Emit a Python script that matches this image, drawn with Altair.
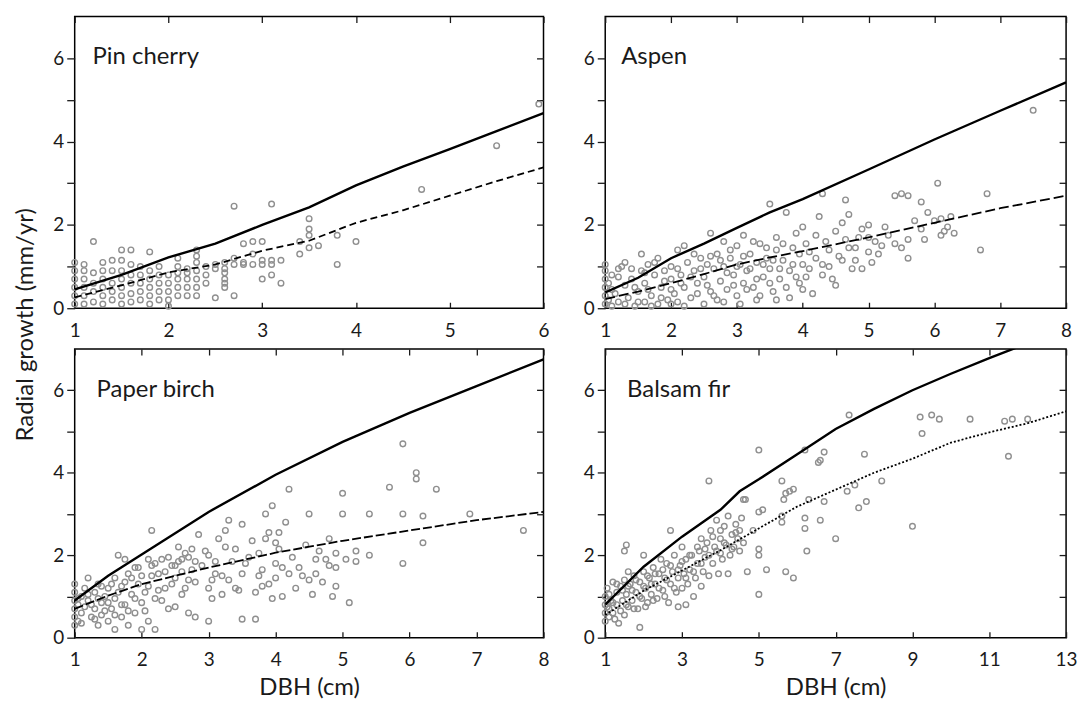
import altair as alt
import pandas as pd

FONT = "Lato"
INK = "#1a1a1a"
DOT = "#8f8f8f"

# ---------------- data ----------------
pin_cherry_pts = [
    (1.0, 0.1), (1.0, 0.3), (1.0, 0.5), (1.0, 0.7), (1.0, 0.9), (1.0, 1.1),
    (1.1, 0.1), (1.1, 0.3), (1.1, 0.5), (1.1, 0.7), (1.1, 0.9), (1.1, 1.05),
    (1.2, 0.15), (1.2, 0.4), (1.2, 0.6), (1.2, 0.85), (1.2, 1.6),
    (1.3, 0.1), (1.3, 0.3), (1.3, 0.5), (1.3, 0.7), (1.3, 0.9), (1.3, 1.1),
    (1.4, 0.2), (1.4, 0.4), (1.4, 0.6), (1.4, 0.9), (1.4, 1.15),
    (1.5, 0.1), (1.5, 0.3), (1.5, 0.5), (1.5, 0.7), (1.5, 0.9), (1.5, 1.15), (1.5, 1.4),
    (1.6, 0.15), (1.6, 0.35), (1.6, 0.6), (1.6, 0.8), (1.6, 1.05), (1.6, 1.4),
    (1.7, 0.2), (1.7, 0.4), (1.7, 0.6), (1.7, 0.8), (1.7, 1.0),
    (1.8, 0.1), (1.8, 0.3), (1.8, 0.5), (1.8, 0.7), (1.8, 0.9), (1.8, 1.35),
    (1.9, 0.2), (1.9, 0.4), (1.9, 0.6), (1.9, 0.8), (1.9, 1.0),
    (2.0, 0.05), (2.0, 0.2), (2.0, 0.4), (2.0, 0.6), (2.0, 0.8),
    (2.1, 0.3), (2.1, 0.5), (2.1, 0.7), (2.1, 0.85), (2.1, 1.0), (2.1, 1.2),
    (2.2, 0.3), (2.2, 0.5), (2.2, 0.7), (2.2, 0.85), (2.2, 0.95),
    (2.3, 0.3), (2.3, 0.5), (2.3, 0.7), (2.3, 0.9), (2.3, 1.1), (2.3, 1.25), (2.3, 1.4),
    (2.4, 0.6), (2.4, 0.8), (2.4, 1.0),
    (2.5, 0.25), (2.5, 0.95), (2.5, 1.05),
    (2.6, 0.5), (2.6, 0.6), (2.6, 0.7), (2.6, 0.85), (2.6, 0.95), (2.6, 1.1),
    (2.7, 0.3), (2.7, 1.05), (2.7, 1.2), (2.7, 2.45),
    (2.8, 1.05), (2.8, 1.1), (2.8, 1.55),
    (2.9, 1.05), (2.9, 1.3), (2.9, 1.6),
    (3.0, 0.7), (3.0, 1.05), (3.0, 1.15), (3.0, 1.6),
    (3.1, 0.8), (3.1, 1.05), (3.1, 1.15), (3.1, 2.5),
    (3.2, 0.6), (3.2, 1.15), (3.4, 1.3), (3.4, 1.6),
    (3.5, 1.45), (3.5, 1.75), (3.5, 1.9), (3.5, 2.15), (3.6, 1.5),
    (3.8, 1.05), (3.8, 1.75), (4.0, 1.6), (4.7, 2.85), (5.5, 3.9), (5.95, 4.9),
]
pin_cherry_curve_x = [1, 1.5, 2, 2.5, 3, 3.5, 4, 4.5, 5, 5.5, 6]
pin_cherry_solid = [0.45, 0.8, 1.22, 1.55, 2.0, 2.42, 2.95, 3.4, 3.82, 4.25, 4.68]
pin_cherry_dashed = [0.26, 0.55, 0.86, 1.05, 1.38, 1.62, 2.05, 2.35, 2.7, 3.05, 3.38]

aspen_pts = [
    (1.0, 0.1), (1.0, 0.3), (1.0, 0.5), (1.0, 0.7), (1.0, 0.9), (1.0, 1.05),
    (1.05, 0.2), (1.05, 0.6), (1.1, 0.8), (1.1, 0.05), (1.15, 0.35), (1.2, 0.15),
    (1.2, 0.95), (1.25, 1.0), (1.3, 1.1), (1.3, 0.55), (1.35, 0.25), (1.4, 0.7),
    (1.45, 0.05), (1.5, 0.4), (1.55, 1.3), (1.55, 0.9), (1.6, 0.15), (1.6, 0.6),
    (1.65, 1.05), (1.7, 0.3), (1.75, 0.8), (1.8, 0.1), (1.8, 1.2), (1.85, 0.5),
    (1.9, 0.9), (1.95, 0.2), (2.0, 0.7), (2.0, 1.0), (2.05, 0.35), (2.1, 1.4),
    (2.1, 0.15), (2.15, 0.8), (2.2, 1.5), (2.2, 0.5), (2.25, 1.1), (2.3, 0.25),
    (2.35, 0.9), (2.4, 0.6), (2.45, 1.2), (2.5, 0.1), (2.5, 0.75), (2.55, 1.05),
    (2.6, 1.8), (2.6, 0.4), (2.65, 0.95), (2.7, 1.3), (2.7, 0.2), (2.75, 0.65),
    (2.8, 1.6), (2.8, 1.0), (2.85, 0.45), (2.9, 1.2), (2.95, 0.8), (3.0, 0.3),
    (3.0, 1.5), (3.05, 1.05), (3.1, 0.6), (3.1, 1.75), (3.15, 0.9), (3.2, 1.3),
    (3.25, 0.5), (3.3, 1.1), (3.3, 0.2), (3.35, 1.55), (3.4, 0.75), (3.45, 1.2),
    (3.5, 2.5), (3.5, 0.95), (3.55, 0.4), (3.6, 1.4), (3.6, 1.7), (3.65, 0.7),
    (3.7, 1.15), (3.75, 2.3), (3.8, 0.9), (3.8, 0.25), (3.85, 1.45), (3.9, 1.8),
    (3.95, 0.6), (4.0, 1.05), (4.0, 1.95), (4.05, 0.75), (4.1, 1.35), (4.15, 0.35),
    (4.2, 1.2), (4.25, 2.2), (4.3, 2.75), (4.3, 0.8), (4.35, 1.6), (4.4, 1.0),
    (4.5, 0.55), (4.5, 1.85), (4.55, 1.25), (4.6, 2.05), (4.65, 2.6), (4.7, 1.45),
    (4.7, 2.25), (4.75, 0.95), (4.8, 1.15), (4.85, 1.7), (4.9, 1.9), (5.0, 1.35),
    (5.0, 2.0), (5.05, 1.1), (5.1, 1.6), (5.2, 1.5), (5.3, 1.75), (5.4, 2.7),
    (5.5, 2.75), (5.5, 1.45), (5.6, 1.2), (5.6, 1.65), (5.6, 2.7), (5.8, 2.55),
    (5.8, 1.9), (5.85, 1.65), (5.9, 2.3), (6.05, 3.0), (6.1, 2.15), (6.1, 1.75),
    (6.2, 1.95), (6.25, 2.2), (6.3, 1.8), (6.7, 1.4), (6.8, 2.75), (7.5, 4.75),
    (1.1, 0.45), (1.2, 0.75), (1.3, 0.1), (1.4, 0.95), (1.45, 0.5), (1.5, 0.15),
    (1.6, 0.85), (1.65, 0.45), (1.7, 0.05), (1.75, 1.1), (1.85, 0.25), (1.9, 0.65),
    (2.0, 0.1), (2.0, 0.45), (2.1, 0.95), (2.15, 0.6), (2.2, 0.05), (2.3, 0.75),
    (2.35, 1.3), (2.4, 0.35), (2.45, 0.95), (2.55, 0.55), (2.6, 1.25), (2.65, 0.3),
    (2.75, 1.15), (2.8, 0.15), (2.85, 0.85), (2.9, 1.4), (2.95, 0.55), (3.0, 1.0),
    (3.05, 0.1), (3.1, 1.25), (3.15, 0.45), (3.2, 0.95), (3.25, 1.6), (3.3, 0.7),
    (3.35, 0.3), (3.4, 1.05), (3.45, 1.45), (3.5, 0.6), (3.55, 1.15), (3.6, 0.2),
    (3.65, 0.95), (3.7, 1.55), (3.75, 0.5), (3.85, 1.05), (3.9, 0.75), (3.95, 1.3),
    (4.0, 0.45), (4.05, 1.55), (4.1, 0.95), (4.2, 1.75), (4.3, 1.05), (4.4, 1.4),
    (4.45, 0.7), (4.6, 1.15), (4.65, 1.65), (4.8, 1.45), (4.9, 0.95), (5.0, 1.7),
    (5.15, 1.3), (5.25, 1.95), (5.4, 1.55), (5.7, 2.1), (6.0, 2.1), (6.15, 1.85),
]
aspen_curve_x = [1, 1.5, 2, 2.5, 3, 3.5, 4, 5, 6, 7, 8]
aspen_solid = [0.38, 0.73, 1.2, 1.55, 1.93, 2.3, 2.62, 3.33, 4.05, 4.74, 5.42]
aspen_dashed = [0.22, 0.4, 0.6, 0.82, 1.05, 1.22, 1.37, 1.7, 2.05, 2.4, 2.7]

paper_birch_pts = [
    (1.0, 0.3), (1.0, 0.5), (1.0, 0.7), (1.0, 0.9), (1.0, 1.1), (1.0, 1.3),
    (1.05, 0.4), (1.05, 0.8), (1.1, 0.6), (1.1, 1.0), (1.15, 1.2), (1.2, 0.9),
    (1.2, 1.45), (1.25, 0.5), (1.3, 0.7), (1.3, 1.1), (1.35, 0.3), (1.35, 1.3),
    (1.4, 0.55), (1.4, 0.85), (1.45, 1.0), (1.5, 0.4), (1.5, 1.2), (1.55, 0.7),
    (1.6, 0.2), (1.6, 1.45), (1.6, 0.95), (1.65, 2.0), (1.7, 0.5), (1.7, 1.25),
    (1.75, 0.8), (1.75, 1.9), (1.8, 1.55), (1.8, 0.3), (1.85, 1.05), (1.9, 0.6),
    (1.9, 1.7), (1.95, 1.3), (2.0, 0.85), (2.0, 0.2), (2.05, 1.1), (2.1, 1.9),
    (2.1, 0.4), (2.15, 1.5), (2.15, 2.6), (2.2, 0.2), (2.2, 1.8), (2.25, 1.15),
    (2.3, 0.9), (2.35, 1.6), (2.4, 1.95), (2.45, 1.3), (2.5, 0.75), (2.5, 1.75),
    (2.55, 2.2), (2.6, 1.05), (2.6, 1.9), (2.65, 2.05), (2.7, 1.4), (2.7, 0.6),
    (2.75, 2.15), (2.8, 1.85), (2.8, 0.5), (2.85, 2.5), (3.0, 0.4), (3.0, 1.2),
    (3.0, 2.0), (3.05, 0.95), (3.1, 1.55), (3.15, 2.4), (3.2, 1.05), (3.25, 2.6),
    (3.3, 2.85), (3.3, 1.4), (3.35, 1.85), (3.4, 2.15), (3.45, 1.15), (3.5, 2.75),
    (3.5, 0.45), (3.55, 1.8), (3.7, 0.45), (3.7, 1.1), (3.75, 1.5), (3.75, 2.05),
    (3.8, 1.65), (3.85, 2.4), (3.85, 3.0), (3.9, 1.3), (3.95, 0.95), (3.95, 3.2),
    (4.0, 1.8), (4.0, 2.3), (4.05, 2.55), (4.1, 1.0), (4.15, 2.8), (4.2, 1.55),
    (4.2, 3.6), (4.3, 1.2), (4.35, 1.7), (4.45, 2.25), (4.5, 1.4), (4.5, 3.0),
    (4.55, 1.05), (4.6, 1.55), (4.7, 1.35), (4.75, 1.9), (4.8, 1.75), (4.8, 2.4),
    (4.85, 1.0), (4.9, 2.05), (4.9, 1.25), (5.0, 3.5), (5.0, 3.0), (5.05, 1.9),
    (5.1, 0.85), (5.2, 1.85), (5.2, 2.1), (5.4, 2.0), (5.4, 3.0), (5.7, 3.65),
    (5.9, 4.7), (5.9, 3.0), (5.9, 1.8), (6.1, 4.0), (6.1, 3.85), (6.2, 2.95),
    (6.2, 2.3), (6.4, 3.6), (6.9, 3.0), (7.7, 2.6),
    (1.05, 0.95), (1.1, 0.35), (1.15, 0.75), (1.2, 1.05), (1.25, 0.8), (1.3, 0.45),
    (1.35, 0.95), (1.4, 1.25), (1.45, 0.65), (1.5, 0.85), (1.55, 1.3), (1.6, 0.55),
    (1.65, 1.1), (1.7, 0.8), (1.75, 1.35), (1.8, 0.65), (1.85, 1.45), (1.9, 0.95),
    (1.95, 1.7), (2.0, 1.5), (2.05, 0.65), (2.1, 1.25), (2.15, 1.75), (2.2, 0.95),
    (2.25, 1.55), (2.3, 1.9), (2.35, 1.2), (2.4, 0.7), (2.45, 1.75), (2.5, 1.45),
    (2.55, 1.85), (2.6, 1.6), (2.65, 1.2), (2.7, 1.95), (2.75, 1.65), (2.8, 1.35),
    (2.9, 1.75), (2.95, 2.1), (3.05, 1.4), (3.1, 1.85), (3.2, 1.5), (3.25, 2.2),
    (3.4, 1.2), (3.5, 1.55), (3.6, 1.95), (3.65, 2.35), (3.8, 1.25), (3.9, 2.55),
    (4.0, 1.45), (4.05, 2.15), (4.1, 1.7), (4.25, 1.95), (4.4, 1.5), (4.6, 1.9),
    (4.65, 2.1), (4.9, 1.7),
]
paper_birch_curve_x = [1, 1.5, 2, 3, 4, 5, 6, 7, 8]
paper_birch_solid = [0.9, 1.5, 2.02, 3.05, 3.95, 4.75, 5.45, 6.1, 6.75]
paper_birch_dashed = [0.7, 1.02, 1.3, 1.7, 2.06, 2.35, 2.6, 2.85, 3.05]

balsam_fir_pts = [
    (1.0, 0.6), (1.0, 0.8), (1.0, 1.0), (1.0, 0.4), (1.05, 1.2), (1.1, 0.7),
    (1.1, 0.5), (1.15, 0.9), (1.2, 1.35), (1.2, 0.6), (1.25, 0.45), (1.3, 1.1),
    (1.3, 0.8), (1.35, 0.35), (1.4, 1.25), (1.45, 0.9), (1.5, 0.55), (1.5, 1.4),
    (1.5, 2.1), (1.55, 1.05), (1.55, 2.25), (1.6, 0.75), (1.6, 1.6), (1.65, 1.3),
    (1.7, 0.9), (1.75, 1.5), (1.8, 1.1), (1.85, 0.7), (1.9, 1.35), (1.9, 0.25),
    (1.95, 0.95), (2.0, 1.6), (2.0, 2.0), (2.05, 1.2), (2.1, 0.85), (2.15, 1.45),
    (2.2, 1.05), (2.25, 1.7), (2.3, 1.3), (2.35, 0.95), (2.4, 1.55), (2.45, 1.9),
    (2.5, 1.15), (2.55, 1.45), (2.6, 1.8), (2.65, 0.85), (2.7, 1.3), (2.7, 2.6),
    (2.75, 1.6), (2.8, 2.0), (2.85, 1.1), (2.9, 1.45), (2.9, 0.75), (2.95, 1.75),
    (3.0, 1.2), (3.0, 2.2), (3.05, 1.55), (3.1, 1.9), (3.1, 0.8), (3.15, 1.3),
    (3.2, 1.65), (3.25, 2.0), (3.3, 1.0), (3.35, 1.45), (3.4, 1.8), (3.45, 2.1),
    (3.5, 1.25), (3.5, 2.4), (3.55, 1.6), (3.6, 1.95), (3.65, 2.3), (3.7, 1.5),
    (3.7, 3.8), (3.75, 2.6), (3.8, 1.8), (3.85, 2.2), (3.9, 2.85), (3.95, 1.55),
    (4.0, 2.05), (4.0, 2.4), (4.05, 1.9), (4.1, 2.7), (4.15, 2.25), (4.2, 2.95),
    (4.2, 1.55), (4.25, 2.0), (4.3, 2.5), (4.35, 2.2), (4.4, 2.75), (4.45, 2.4),
    (4.5, 2.1), (4.55, 2.9), (4.6, 3.35), (4.6, 2.3), (4.65, 3.35), (4.7, 1.6),
    (4.85, 2.6), (5.0, 1.05), (5.0, 2.0), (5.0, 2.15), (5.0, 3.05), (5.0, 4.55),
    (5.1, 3.1), (5.2, 1.65), (5.6, 2.95), (5.6, 2.8), (5.6, 3.8), (5.65, 3.35),
    (5.7, 3.5), (5.7, 1.6), (5.8, 3.55), (5.9, 3.6), (5.9, 1.45), (6.2, 2.65),
    (6.2, 2.9), (6.2, 4.55), (6.25, 2.1), (6.3, 3.35), (6.55, 4.25), (6.6, 4.3),
    (6.6, 2.85), (6.7, 4.5), (6.7, 3.3), (7.0, 2.4), (7.3, 3.55), (7.35, 5.4),
    (7.5, 3.7), (7.6, 3.15), (7.75, 4.45), (7.8, 3.3), (8.2, 3.8), (9.0, 2.7),
    (9.2, 5.35), (9.25, 4.95), (9.5, 5.4), (9.7, 5.3), (10.5, 5.3), (11.4, 5.25),
    (11.5, 4.4), (11.6, 5.3), (12.0, 5.3),
    (1.05, 0.75), (1.1, 1.05), (1.2, 0.85), (1.3, 1.3), (1.4, 0.65), (1.45, 1.15),
    (1.55, 0.8), (1.6, 1.25), (1.7, 1.15), (1.75, 0.7), (1.8, 1.4), (1.9, 1.0),
    (2.0, 1.25), (2.05, 0.75), (2.1, 1.5), (2.2, 1.3), (2.25, 0.9), (2.3, 1.55),
    (2.4, 1.2), (2.5, 1.65), (2.55, 1.0), (2.6, 1.4), (2.7, 1.75), (2.8, 1.2),
    (2.9, 1.65), (3.0, 1.85), (3.1, 1.45), (3.2, 2.0), (3.3, 1.6), (3.4, 2.2),
    (3.5, 1.8), (3.6, 2.15), (3.7, 2.0), (3.8, 2.45), (3.9, 2.1), (4.0, 2.6),
    (4.1, 2.3), (4.3, 2.15), (4.4, 2.55), (4.5, 2.6),
]
balsam_fir_solid_x = [1, 2, 3, 4, 4.5, 5, 6, 7, 8, 9, 10, 11, 12, 12.3]
balsam_fir_solid = [0.8, 1.72, 2.45, 3.1, 3.55, 3.84, 4.45, 5.06, 5.55, 6.0, 6.4, 6.78, 7.14, 7.25]
balsam_fir_dotted_x = [1, 2, 3, 4, 5, 6, 7, 8, 9, 10, 11, 12, 13]
balsam_fir_dotted = [0.55, 1.14, 1.63, 2.12, 2.65, 3.18, 3.59, 4.0, 4.34, 4.73, 4.98, 5.2, 5.49]

Y_TICKS = [0, 1, 2, 3, 4, 5, 6]


def panel(name, pts, sx, sy, dx, dy, dash, xdom, xticks, width, height,
          xtitle, label_dx):
    pts_df = pd.DataFrame(pts, columns=["dbh", "growth"])
    solid_df = pd.DataFrame({"dbh": sx, "growth": sy})
    dash_df = pd.DataFrame({"dbh": dx, "growth": dy})
    xs = alt.Scale(domain=xdom, nice=False, zero=False)
    ys = alt.Scale(domain=[0, 7], nice=False, zero=False)

    x_kw = dict(values=xticks, offset=-6, tickSize=6, labelPadding=13,
                labelFlush=False, grid=False, domain=False)
    if xtitle:
        x_axis = alt.Axis(title=xtitle, titlePadding=6, **x_kw)
    else:
        x_axis = alt.Axis(title=None, **x_kw)
    y_axis = alt.Axis(values=Y_TICKS, title=None, tickSize=8, labelPadding=3,
                      grid=False, domain=False,
                      labelExpr="datum.value % 2 == 0 ? datum.label : ''")

    scatter = alt.Chart(pts_df).mark_point(
        shape="circle", filled=False, size=32, color=DOT, strokeWidth=1.4, opacity=1
    ).encode(
        x=alt.X("dbh:Q", scale=xs, axis=x_axis),
        y=alt.Y("growth:Q", scale=ys, axis=y_axis),
    )
    solid = alt.Chart(solid_df).mark_line(color="black", strokeWidth=2.4, clip=True).encode(
        x=alt.X("dbh:Q", scale=xs, axis=alt.Axis(orient="top", values=xticks, labels=False,
                                                  tickSize=6, offset=-6, grid=False,
                                                  domain=False, title=None)),
        y=alt.Y("growth:Q", scale=ys, axis=alt.Axis(orient="right", values=Y_TICKS[1:],
                                                    labels=False, tickSize=7, offset=-7,
                                                    grid=False, domain=False, title=None)),
    )
    dashed = alt.Chart(dash_df).mark_line(color="black", strokeWidth=1.8,
                                          strokeDash=dash, clip=True).encode(
        x=alt.X("dbh:Q", scale=xs, axis=None),
        y=alt.Y("growth:Q", scale=ys, axis=None),
    )
    label = alt.Chart(pd.DataFrame({"t": [name]})).mark_text(
        align="left", baseline="middle", font=FONT, fontSize=24, color=INK
    ).encode(text="t:N", x=alt.value(label_dx), y=alt.value(41))

    return alt.layer(scatter, solid, dashed, label).resolve_axis(
        x="independent", y="independent"
    ).properties(width=width, height=height)


p1 = panel("Pin cherry", pin_cherry_pts, pin_cherry_curve_x, pin_cherry_solid,
           pin_cherry_curve_x, pin_cherry_dashed, [7, 4], [1, 6], [1, 2, 3, 4, 5, 6],
           471, 293, None, 18)
p2 = panel("Aspen", aspen_pts, aspen_curve_x, aspen_solid, aspen_curve_x, aspen_dashed,
           [10, 4], [1, 8], [1, 2, 3, 4, 5, 6, 7, 8], 463, 293, None, 16)
p3 = panel("Paper birch", paper_birch_pts, paper_birch_curve_x, paper_birch_solid,
           paper_birch_curve_x, paper_birch_dashed, [9, 3], [1, 8],
           [1, 2, 3, 4, 5, 6, 7, 8], 471, 290, "DBH (cm)", 22)
p4 = panel("Balsam fir", balsam_fir_pts, balsam_fir_solid_x, balsam_fir_solid,
           balsam_fir_dotted_x, balsam_fir_dotted, [2, 2], [1, 13],
           [1, 3, 5, 7, 9, 11, 13], 463, 290, "DBH (cm)", 22)

top = alt.hconcat(p1, p2, spacing=32)
bottom = alt.hconcat(p3, p4, spacing=32)

chart = alt.vconcat(top, bottom, spacing=6).properties(
    title=alt.TitleParams("Radial growth (mm/yr)", orient="left", anchor="middle",
                          font=FONT, fontSize=24, fontWeight="normal", color=INK,
                          offset=14, dx=33),
    padding={"left": 6, "top": 5, "right": 5, "bottom": 0},
    background="white",
).configure_view(
    stroke="black", strokeWidth=1.5
).configure_axis(
    labelFont=FONT, labelFontSize=19, labelColor=INK,
    tickColor=INK, tickWidth=1.3,
    titleFont=FONT, titleFontSize=24, titleFontWeight="normal", titleColor=INK,
)

chart.save("out.html", embed_options={"renderer": "svg", "actions": False})
